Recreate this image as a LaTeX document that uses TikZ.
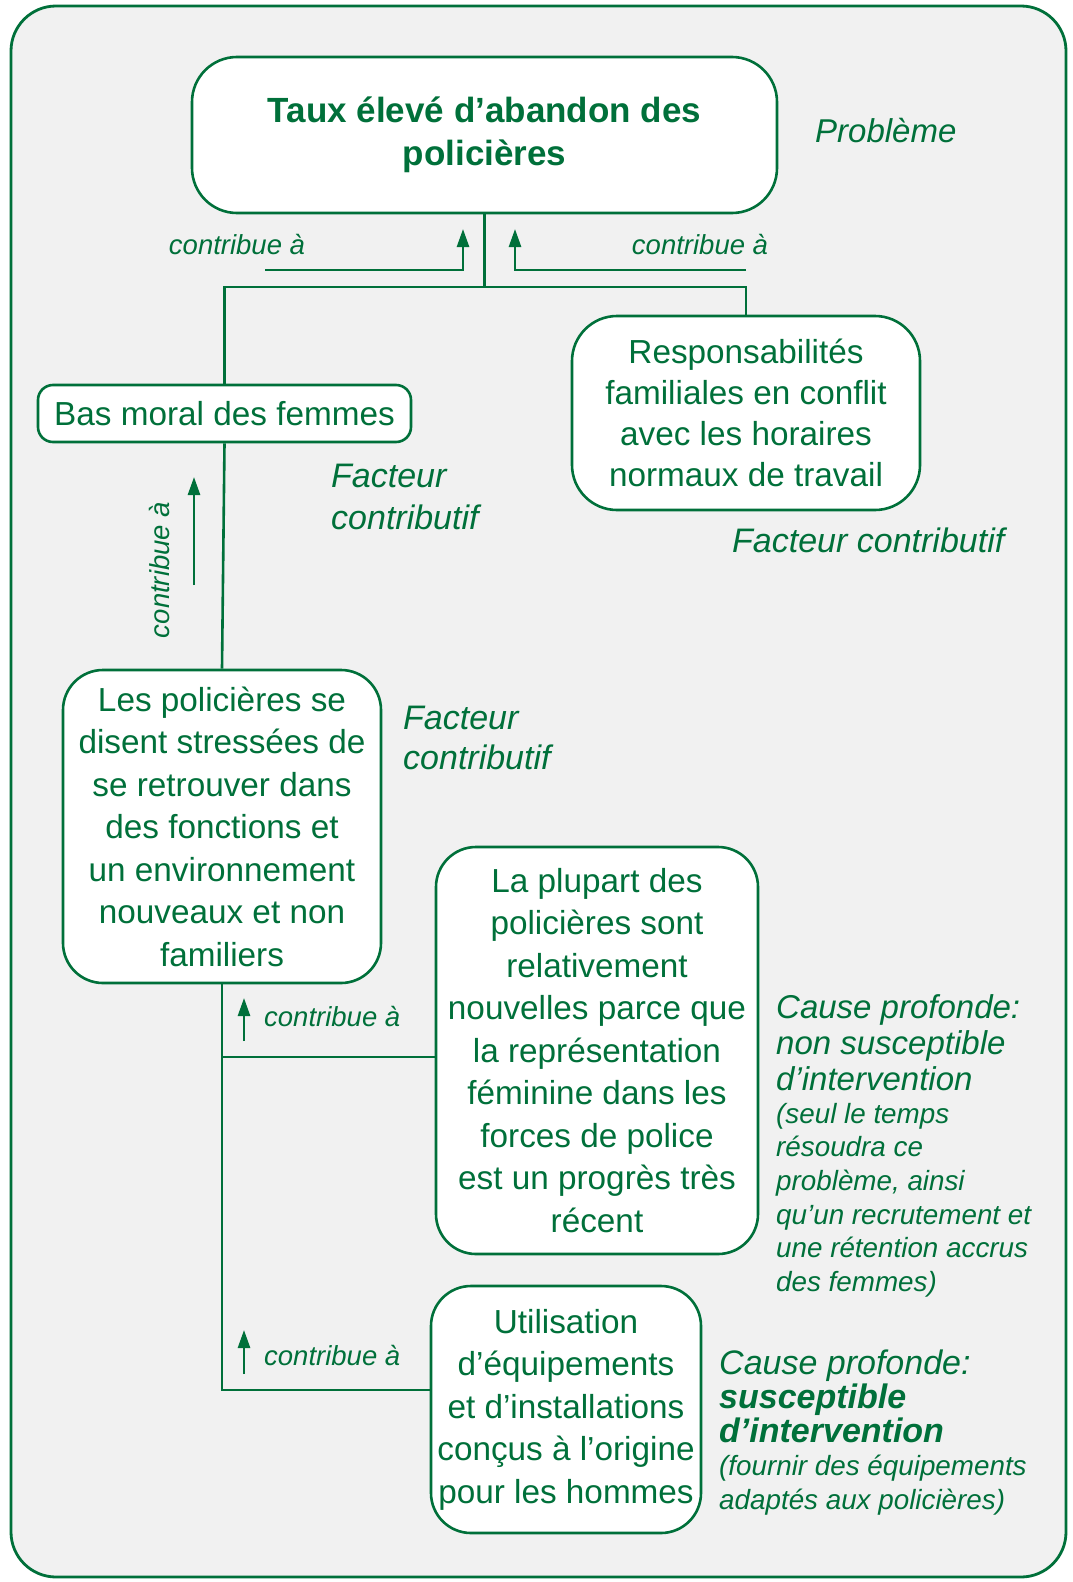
\documentclass[tikz,border=0pt]{standalone}
\usepackage{fontspec}
\setmainfont{Liberation Sans}
\usetikzlibrary{arrows.meta}
\definecolor{grn}{RGB}{0,112,58}
\definecolor{bgg}{RGB}{241,241,241}
\begin{document}
\begin{tikzpicture}[x=1pt,y=-1pt,
  every node/.style={text=grn},
  boxnode/.style={draw=grn, fill=white, line width=2.6pt, inner sep=0pt, align=center,
     font=\fontsize{33.3}{42.5}\selectfont},
  conn/.style={draw=grn, line width=2.6pt},
  arr/.style={draw=grn, line width=2.6pt, -{Triangle[length=18pt,width=12pt]}},
  lab/.style={font=\fontsize{27.5}{33}\selectfont\itshape, inner sep=0pt},
  biglab/.style={font=\fontsize{34}{42}\selectfont\itshape, inner sep=0pt, align=left, anchor=west},
  notelab/.style={font=\fontsize{27.8}{33.6}\selectfont\itshape, inner sep=0pt, align=left, anchor=west}
]
\useasboundingbox (0,0) rectangle (1072,1582);
\fill[white] (0,0) rectangle (1072,1582);
\draw[draw=grn, fill=bgg, line width=2.8pt, rounded corners=45pt] (11,6) rectangle (1066,1577);

% boxes
\node[boxnode, rounded corners=45pt, minimum width=585pt, minimum height=156pt,
  font=\fontsize{35}{43}\selectfont\bfseries] (top) at (484.5,135)
  {Taux élevé d’abandon des\\policières};
\node[boxnode, rounded corners=15pt, minimum width=373pt, minimum height=57pt] (bas) at (224.5,413.5)
  {Bas moral des femmes};
\node[boxnode, rounded corners=45pt, minimum width=348pt, minimum height=194pt,
  font=\fontsize{33.3}{41}\selectfont] (resp) at (746,413)
  {Responsabilités\\familiales en conflit\\avec les horaires\\normaux de travail};
\node[boxnode, rounded corners=40pt, minimum width=318pt, minimum height=313pt] (pol) at (222,826.5)
  {Les policières se\\disent stressées de\\se retrouver dans\\des fonctions et\\un environnement\\nouveaux et non\\familiers};
\node[boxnode, rounded corners=40pt, minimum width=322pt, minimum height=407pt] (plu) at (597,1050.5)
  {La plupart des\\policières sont\\relativement\\nouvelles parce que\\la représentation\\féminine dans les\\forces de police\\est un progrès très\\récent};
\node[boxnode, rounded corners=40pt, minimum width=270pt, minimum height=247pt] (uti) at (566,1409.5)
  {Utilisation\\d’équipements\\et d’installations\\conçus à l’origine\\pour les hommes};

% connectors
\coordinate (j) at (top.south |- 0,287);
\draw[conn] (top.south) -- (j);
\draw[conn] (bas.north) |- (j);
\draw[conn] (resp.north) |- (j);
\draw[conn] (bas.south) -- (pol.north);
\coordinate (b1) at (pol.south |- 0,1057);
\coordinate (b2) at (pol.south |- 0,1390);
\coordinate (p1) at (plu.west |- 0,1057);
\coordinate (u1) at (uti.west |- 0,1390);
\draw[conn] (pol.south) -- (b2) -- (u1);
\draw[conn] (b1) -- (p1);

% arrows
\coordinate (a1s) at (265,270); \coordinate (a1c) at (463,270); \coordinate (a1e) at (463,229);
\coordinate (a2s) at (746,270); \coordinate (a2c) at (515,270); \coordinate (a2e) at (515,229);
\coordinate (a3s) at (194,585); \coordinate (a3e) at (194,477);
\coordinate (a4s) at (244,1041); \coordinate (a4e) at (244,998);
\coordinate (a5s) at (244,1374); \coordinate (a5e) at (244,1330);
\draw[arr] (a1s) -- (a1c) -- (a1e);
\draw[arr] (a2s) -- (a2c) -- (a2e);
\draw[arr] (a3s) -- (a3e);
\draw[arr] (a4s) -- (a4e);
\draw[arr] (a5s) -- (a5e);

% labels
\node[lab] (l1) at (237,245) {contribue à};
\node[lab] (l2) at (700,245) {contribue à};
\node[lab, rotate=90] (l3) at (160,570) {contribue à};
\node[lab, anchor=west] (l4) at (264,1016) {contribue à};
\node[lab, anchor=west] (l5) at (264,1355) {contribue à};

\node[biglab, font=\fontsize{33}{42}\selectfont\itshape] (prob) at (815,131) {Problème};
\node[biglab] (f1) at (331,497) {Facteur\\contributif};
\node[biglab] (f2) at (732,540) {Facteur contributif};
\node[biglab, font=\fontsize{34}{40}\selectfont\itshape] (f3) at (403,738) {Facteur\\contributif};

\node[biglab, font=\fontsize{33}{36}\selectfont\itshape] (c1) at (776,1043)
  {Cause profonde:\\non susceptible\\d’intervention};
\node[notelab] (n1) at (776,1200)
  {(seul le temps\\résoudra ce\\problème, ainsi\\qu’un recrutement et\\une rétention accrus\\des femmes)};
\node[biglab, font=\fontsize{34}{34}\selectfont\itshape] (c2) at (719,1396)
  {Cause profonde:\\\textbf{susceptible}\\\textbf{d’intervention}};
\node[notelab, font=\fontsize{27.8}{34}\selectfont\itshape] (n2) at (719,1485)
  {(fournir des équipements\\adaptés aux policières)};
\end{tikzpicture}
\end{document}
